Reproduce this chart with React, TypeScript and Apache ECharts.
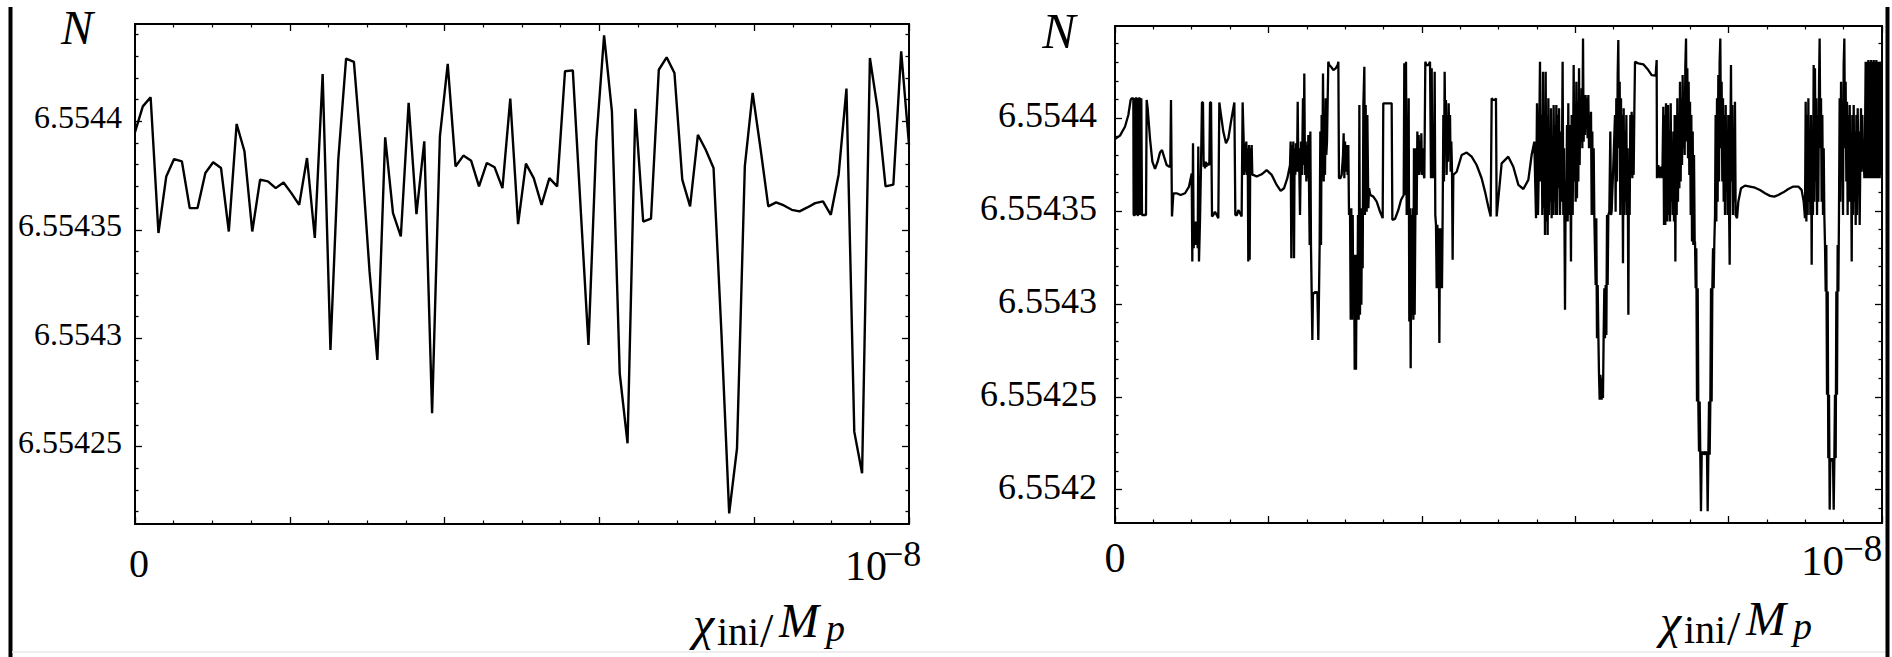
import React, { useEffect, useRef } from "react";
import * as echarts from "echarts";

// x values are in units of 10^-8 (chi_ini / M_p); the right-hand tick is labelled 10^-8
const xTickLabels = ["0", "10", "\u22128"];

// Left panel: 100 equally spaced samples over [0, 1e-8]
const leftN: number[] = [
  6.554395, 6.5544069, 6.5544111, 6.5543485, 6.5543746, 6.5543826, 6.5543815, 6.554360, 6.554360, 6.5543762,
  6.5543811, 6.5543785, 6.5543492, 6.5543988, 6.5543862, 6.5543492, 6.5543731, 6.5543723, 6.5543692, 6.5543718,
  6.5543669, 6.5543615, 6.5543831, 6.5543462, 6.5544218, 6.5542946, 6.5543823, 6.5544289, 6.5544274, 6.5543831,
  6.5543308, 6.554290, 6.5543926, 6.5543577, 6.5543469, 6.5544085, 6.5543572, 6.5543908, 6.5542654, 6.5543931,
  6.5544265, 6.5543792, 6.5543842, 6.5543818, 6.554370, 6.5543808, 6.5543788, 6.5543692, 6.5544105, 6.5543526,
  6.5543805, 6.5543738, 6.5543615, 6.5543738, 6.554370, 6.5544231, 6.5544235, 6.554360, 6.5542969, 6.5543908,
  6.5544397, 6.5544046, 6.5542838, 6.5542515, 6.5544058, 6.5543538, 6.5543551, 6.5544238, 6.5544295, 6.5544223,
  6.5543731, 6.5543608, 6.5543938, 6.5543869, 6.5543785, 6.5543031, 6.5542192, 6.5542492, 6.5543792, 6.5544131,
  6.5543877, 6.5543608, 6.5543626, 6.5543612, 6.5543592, 6.5543585, 6.5543603, 6.5543623, 6.5543631, 6.5543569,
  6.5543754, 6.5544151, 6.5542569, 6.5542377, 6.5544292, 6.5544054, 6.554370, 6.5543708, 6.5544323, 6.5543892,
];

// Right panel: [x (units of 1e-8), N]
const rightPoints: [number, number][] = [
  [0, 6.5543887], [0.0065, 6.5543905], [0.013, 6.5543953], [0.0174, 6.5544016], [0.0204, 6.5544097],
  [0.0217, 6.5544106], [0.0239, 6.5544106], [0.0243, 6.5543478], [0.0261, 6.5543478], [0.0265, 6.5544106], [0.0287, 6.5544106], [0.0291, 6.5543478], [0.0304, 6.5543478], [0.0309, 6.5544106], [0.0326, 6.5544106], [0.033, 6.5543478], [0.0343, 6.5544106], [0.0348, 6.5544106], [0.0352, 6.5543478], [0.0404, 6.5543478], [0.0413, 6.5544097],
  [0.0426, 6.5544052], [0.0456, 6.5543891], [0.0487, 6.5543765], [0.0522, 6.5543726], [0.0556, 6.5543765], [0.0587, 6.5543815], [0.0613, 6.5543828], [0.0639, 6.5543792], [0.0674, 6.5543747], [0.0708, 6.5543738], [0.0721, 6.5543738], [0.073, 6.5544097], [0.0743, 6.554347], [0.0761, 6.5543595], [0.0804, 6.5543595], [0.0856, 6.5543586], [0.0913, 6.5543595], [0.0965, 6.5543631], [0.1, 6.5543702],
  [0.1008, 6.5543228], [0.1017, 6.5543864], [0.1026, 6.5543299], [0.1034, 6.5543443], [0.1043, 6.5543317], [0.1052, 6.5543443], [0.106, 6.5543317], [0.1069, 6.5543425], [0.1078, 6.5543299], [0.1086, 6.5543846], [0.1095, 6.5543228], [0.1108, 6.5543443], [0.1121, 6.5543738], [0.1134, 6.5544084], [0.1147, 6.5544084], [0.1156, 6.5543738], [0.1165, 6.5543765], [0.1173, 6.5543729], [0.1182, 6.5543765], [0.1191, 6.5543738], [0.1204, 6.5543756], [0.123, 6.5543747], [0.1239, 6.5544084], [0.1252, 6.5544084], [0.1265, 6.554347], [0.1282, 6.5543478], [0.1304, 6.5543496], [0.1326, 6.5543478], [0.1347, 6.5543461], [0.136, 6.5544084], [0.1382, 6.5544016], [0.1412, 6.5543927], [0.1447, 6.5543864], [0.1478, 6.5543891], [0.1512, 6.554398], [0.1556, 6.5544084], [0.1569, 6.5543478], [0.1591, 6.5543478], [0.1608, 6.5543505], [0.163, 6.5543487], [0.1651, 6.554347], [0.1664, 6.5544084], [0.1678, 6.5543873], [0.1686, 6.5543694], [0.1695, 6.5543864], [0.1704, 6.5543711], [0.1712, 6.5543873], [0.1721, 6.5543694], [0.173, 6.5543837], [0.1738, 6.5543228], [0.1747, 6.5543855], [0.1756, 6.5543237], [0.1764, 6.5543837], [0.1773, 6.5543694], [0.1782, 6.5543855], [0.179, 6.5543694], [0.1804, 6.5543694],
  [0.1847, 6.5543685], [0.1912, 6.5543697], [0.1977, 6.554372], [0.2043, 6.5543694], [0.2108, 6.554364], [0.216, 6.5543608], [0.2203, 6.5543622], [0.2247, 6.5543676], [0.2282, 6.5543747],
  [0.229, 6.5543873], [0.2299, 6.5543246], [0.2308, 6.5543855], [0.2316, 6.5543694], [0.2325, 6.5543873], [0.2334, 6.5543246], [0.2342, 6.5543837], [0.2351, 6.5543694], [0.236, 6.5543864], [0.2373, 6.5543711], [0.2382, 6.5544088], [0.239, 6.5543711], [0.2399, 6.5543837], [0.2412, 6.5543478], [0.2425, 6.5543873], [0.2438, 6.5543694], [0.2451, 6.5544106], [0.246, 6.5543747], [0.2468, 6.554424], [0.2477, 6.5543694], [0.2486, 6.5543873], [0.2495, 6.5543658], [0.2503, 6.5543855], [0.2512, 6.5543676], [0.2521, 6.5543909], [0.2529, 6.5543658], [0.2538, 6.5543317], [0.2547, 6.5543927], [0.2555, 6.5543317],
  [0.2564, 6.5543066], [0.2573, 6.5542806], [0.2581, 6.5543057], [0.2599, 6.5543057], [0.2608, 6.5543066], [0.2625, 6.5543057], [0.2638, 6.5543066], [0.2651, 6.5542806], [0.266, 6.5543066], [0.2668, 6.5543317], [0.2677, 6.5543927], [0.2686, 6.5543317], [0.2694, 6.5544016], [0.2703, 6.5543694], [0.2712, 6.554424], [0.2721, 6.5543658], [0.2729, 6.5544016], [0.2738, 6.5543694], [0.2747, 6.5544106], [0.2755, 6.5543801], [0.2764, 6.5543873], [0.2781, 6.5544303], [0.2794, 6.5544285], [0.2816, 6.5544276], [0.2847, 6.5544258], [0.2877, 6.5544267], [0.2903, 6.5544285], [0.2912, 6.5544303], [0.292, 6.5543676], [0.2938, 6.5543676], [0.2955, 6.5543694], [0.2973, 6.5543801], [0.2981, 6.5543918], [0.299, 6.5543676], [0.2999, 6.5543873], [0.3007, 6.5543711], [0.302, 6.5543855], [0.3033, 6.5543694], [0.3042, 6.5543855], [0.3051, 6.5543478],
  [0.3064, 6.5543514], [0.3073, 6.5542914], [0.3081, 6.5543514], [0.309, 6.5542914], [0.3099, 6.5543478], [0.3107, 6.5542941], [0.3116, 6.5543264], [0.3125, 6.5542645], [0.3133, 6.5543264], [0.3142, 6.5542645], [0.3151, 6.5543264], [0.316, 6.5542914], [0.3168, 6.5543478], [0.3177, 6.5542914], [0.3186, 6.554407], [0.3194, 6.5542941], [0.3203, 6.5543514], [0.3212, 6.5542995], [0.322, 6.5543496], [0.3229, 6.5543192], [0.3238, 6.554407], [0.3251, 6.5544276], [0.3259, 6.5543478], [0.3268, 6.554407], [0.3281, 6.5543496], [0.329, 6.5544016], [0.3303, 6.5543514], [0.3312, 6.5543622], [0.3329, 6.5543586], [0.3368, 6.5543577], [0.3412, 6.554355], [0.3455, 6.5543496], [0.349, 6.5543461], [0.3498, 6.5544079], [0.3551, 6.5544079], [0.3607, 6.5544079], [0.3616, 6.5543452], [0.3651, 6.5543457], [0.3694, 6.5543505], [0.3729, 6.5543559], [0.3764, 6.5543586],
  [0.3772, 6.5544294], [0.3785, 6.5543586], [0.3794, 6.5544303], [0.3803, 6.5543478], [0.3811, 6.5543694], [0.382, 6.5543478], [0.3829, 6.5544106], [0.3837, 6.5542905], [0.3846, 6.5543514], [0.3855, 6.5542654], [0.3864, 6.5543478], [0.3872, 6.5542941], [0.3881, 6.5543514], [0.389, 6.5542914], [0.3898, 6.5543837], [0.3907, 6.5542941], [0.3916, 6.5543478], [0.3924, 6.5543837], [0.3933, 6.5543478], [0.3942, 6.5543927], [0.395, 6.5543694], [0.3959, 6.5543909], [0.3968, 6.5543694], [0.3976, 6.5543873], [0.3985, 6.5543711], [0.3994, 6.5543918], [0.4003, 6.5543694], [0.4011, 6.5543837], [0.402, 6.5543711], [0.4033, 6.5543676], [0.4046, 6.5544303], [0.4059, 6.5544285], [0.4085, 6.5544285], [0.4107, 6.5544303], [0.412, 6.5543676], [0.4129, 6.5544267], [0.4137, 6.5543676], [0.415, 6.5543873], [0.4159, 6.5543676], [0.4168, 6.5544249], [0.4176, 6.5543478], [0.4185, 6.5543425], [0.4194, 6.5543084], [0.4203, 6.5543425], [0.4211, 6.5543084], [0.422, 6.5543407], [0.4229, 6.5542789], [0.4237, 6.5543407], [0.4246, 6.5543084], [0.4255, 6.5543407], [0.4263, 6.5543084], [0.4272, 6.5543478], [0.4281, 6.5544016], [0.4289, 6.5543658], [0.4298, 6.5544249], [0.4307, 6.5543873], [0.4315, 6.5544097], [0.4324, 6.5543694], [0.4333, 6.5544016], [0.4342, 6.5543765], [0.435, 6.5544079], [0.4359, 6.5543837], [0.4368, 6.5544016], [0.4376, 6.5543711], [0.4385, 6.5543873], [0.4394, 6.5543711], [0.4402, 6.5543237], [0.4411, 6.5543694],
  [0.4455, 6.5543711], [0.452, 6.5543801], [0.4585, 6.5543814], [0.465, 6.5543792], [0.4715, 6.5543747], [0.478, 6.5543676], [0.4824, 6.5543604], [0.4867, 6.5543523], [0.4898, 6.554347], [0.4911, 6.5544106], [0.4933, 6.5544097], [0.4954, 6.5544097], [0.4967, 6.5544106], [0.4976, 6.554347],
  [0.5041, 6.5543756], [0.5128, 6.5543792], [0.5193, 6.5543738], [0.5259, 6.554364], [0.5324, 6.5543618], [0.5389, 6.5543667], [0.5432, 6.5543801], [0.5467, 6.5543873],
  [0.5476, 6.5543873], [0.5489, 6.5543461], [0.5502, 6.5544079], [0.5515, 6.5543478], [0.5528, 6.5543801], [0.5541, 6.5544303], [0.555, 6.5543658], [0.5563, 6.5544016], [0.5571, 6.5543478], [0.558, 6.5544249], [0.5589, 6.5543514], [0.5598, 6.554398], [0.5606, 6.5543371], [0.5615, 6.5544249], [0.5624, 6.5543443], [0.5632, 6.5544016], [0.5641, 6.5543371], [0.565, 6.5544106], [0.5658, 6.5543478], [0.5667, 6.5543837], [0.5676, 6.554355], [0.5684, 6.5544052], [0.5693, 6.5543461], [0.5702, 6.5543837], [0.5711, 6.5543478], [0.5719, 6.554407], [0.5728, 6.554355], [0.5737, 6.5543962], [0.5745, 6.5543478], [0.5754, 6.554407], [0.5763, 6.5543478], [0.5771, 6.5544016], [0.578, 6.5543622], [0.5789, 6.5544052], [0.5802, 6.5543478], [0.5815, 6.5543927], [0.5823, 6.554355], [0.5836, 6.5544303], [0.5845, 6.5543478], [0.5854, 6.5543837], [0.5867, 6.5542968], [0.5876, 6.5543658], [0.5884, 6.5543478], [0.5893, 6.5543962], [0.5902, 6.5543443], [0.591, 6.5544079], [0.5919, 6.5543478], [0.5932, 6.5543962], [0.5945, 6.5543228], [0.5954, 6.5544016], [0.5967, 6.5543478], [0.598, 6.5544285], [0.5989, 6.5543658], [0.5997, 6.5544016], [0.6006, 6.554355], [0.6015, 6.5544195], [0.6023, 6.5543568], [0.6032, 6.5544088], [0.6041, 6.5543658], [0.605, 6.5544267], [0.6058, 6.5543747], [0.6067, 6.5544106], [0.6076, 6.5543873], [0.6084, 6.554416], [0.6093, 6.5543837], [0.6102, 6.5544428], [0.611, 6.5543873], [0.6119, 6.5544088], [0.6128, 6.5543909], [0.6136, 6.5544124], [0.6145, 6.5543944], [0.6154, 6.5544106], [0.6162, 6.5543891], [0.6171, 6.5544124], [0.618, 6.5543837], [0.6189, 6.5544016], [0.6197, 6.5543873], [0.6206, 6.5544034], [0.6215, 6.5543478], [0.6223, 6.5543927], [0.6232, 6.5543478], [0.6241, 6.5543837], [0.6249, 6.5543478],
  [0.6258, 6.5543478], [0.6267, 6.5543102], [0.6275, 6.5543461], [0.6284, 6.5542815], [0.6293, 6.5543102], [0.6302, 6.5542833], [0.631, 6.5542627], [0.6319, 6.5542484], [0.6328, 6.5542618], [0.6336, 6.5542582], [0.6345, 6.5542484], [0.6354, 6.55426], [0.6362, 6.5542493], [0.6371, 6.5542833], [0.638, 6.5543084], [0.6388, 6.5542815], [0.6397, 6.5543102], [0.6406, 6.5542833], [0.6415, 6.5543478], [0.6423, 6.5543102], [0.6432, 6.5543478], [0.6445, 6.5543496], [0.6458, 6.5543927], [0.6467, 6.5543478],
  [0.6475, 6.5543496], [0.6497, 6.5543747], [0.6519, 6.5544016], [0.6527, 6.5543496], [0.6536, 6.5544106], [0.6545, 6.5543658], [0.6554, 6.5544231], [0.6562, 6.5544419], [0.6571, 6.5543837], [0.658, 6.5544195], [0.6588, 6.5543478], [0.6597, 6.5544106], [0.6606, 6.554355], [0.6614, 6.5544016], [0.6623, 6.5543219], [0.6632, 6.5544052], [0.6641, 6.5543478], [0.6649, 6.5543927], [0.6658, 6.554355], [0.6667, 6.5544016], [0.6675, 6.5543478], [0.6684, 6.5543837], [0.6693, 6.5542941], [0.6701, 6.5543747], [0.671, 6.5543478], [0.6719, 6.5544016], [0.6727, 6.5543694], [0.6736, 6.5544034], [0.6745, 6.5543676], [0.6754, 6.5544016], [0.6762, 6.5543694], [0.6771, 6.5544034], [0.678, 6.5544303],
  [0.6823, 6.5544294], [0.6888, 6.5544289], [0.6953, 6.5544258], [0.6997, 6.5544231], [0.7049, 6.5544228], [0.7062, 6.5544312], [0.7066, 6.5543676], [0.7084, 6.5543747], [0.7101, 6.5543676], [0.7119, 6.5543738], [0.7136, 6.5543676],
  [0.7149, 6.5544061], [0.7158, 6.5543425], [0.7167, 6.5544016], [0.7175, 6.5543425], [0.7184, 6.5544079], [0.7193, 6.5543658], [0.7201, 6.5543443], [0.721, 6.554407], [0.7219, 6.5543478], [0.7227, 6.5543927], [0.7236, 6.5543443], [0.7245, 6.5544079], [0.7254, 6.554355], [0.7262, 6.5543837], [0.7271, 6.5543478], [0.728, 6.5543927], [0.7288, 6.5543443], [0.7297, 6.5544016], [0.7306, 6.5543228], [0.7314, 6.5544016], [0.7323, 6.5543478], [0.7332, 6.5544106], [0.734, 6.554355], [0.7349, 6.5544016], [0.7358, 6.5543622], [0.7366, 6.5544195], [0.7375, 6.5543658], [0.7384, 6.5544106], [0.7393, 6.5543747], [0.7401, 6.5544231], [0.741, 6.5543837], [0.7419, 6.5544106], [0.7427, 6.5543801], [0.7436, 6.5544285], [0.7445, 6.5544428], [0.7453, 6.5543873], [0.7462, 6.5544267], [0.7471, 6.5543783], [0.7479, 6.5544195], [0.7488, 6.5543694], [0.7497, 6.5544088], [0.7506, 6.5543478], [0.7514, 6.5544016], [0.7523, 6.5543335], [0.7532, 6.5543927], [0.754, 6.5543317], [0.7549, 6.5543801], [0.7558, 6.5543317],
  [0.7562, 6.5543335], [0.7571, 6.5543084], [0.7579, 6.5543299], [0.7588, 6.5542475], [0.7597, 6.5543084], [0.7605, 6.5542475], [0.7614, 6.5542206], [0.7623, 6.5542475], [0.7631, 6.5542188], [0.764, 6.5541884], [0.7649, 6.5542188], [0.7658, 6.5542206], [0.7666, 6.5542188], [0.7675, 6.5542206], [0.7684, 6.5542188], [0.7692, 6.5542188], [0.7701, 6.5542206], [0.771, 6.5542188], [0.7718, 6.5542206], [0.7727, 6.5541884], [0.7736, 6.5542188], [0.7745, 6.5542475], [0.7753, 6.5542188], [0.7762, 6.5542475], [0.7771, 6.5543084], [0.7779, 6.5542475], [0.7788, 6.5543084], [0.7797, 6.5543299], [0.7805, 6.5543084], [0.7814, 6.5543335],
  [0.7823, 6.5543478], [0.7831, 6.5544016], [0.784, 6.5543443], [0.7849, 6.5544106], [0.7857, 6.554355], [0.7866, 6.5544231], [0.7875, 6.5543658], [0.7883, 6.5544303], [0.7892, 6.5544428], [0.7901, 6.5543837], [0.7909, 6.5544195], [0.7918, 6.5543658], [0.7927, 6.5544106], [0.7936, 6.554355], [0.7944, 6.5544016], [0.7953, 6.5543478], [0.7962, 6.554407], [0.797, 6.5543658], [0.7979, 6.5543927], [0.7988, 6.5543478], [0.7996, 6.5544016], [0.8005, 6.554355], [0.8014, 6.554321], [0.8023, 6.5543837], [0.8031, 6.5544285], [0.804, 6.5543658], [0.8049, 6.554407], [0.8057, 6.5543478], [0.8066, 6.5543927], [0.8075, 6.554355], [0.8083, 6.5544088], [0.8092, 6.5543478], [0.811, 6.5543461],
  [0.8127, 6.554355], [0.8162, 6.5543622], [0.8214, 6.5543636], [0.8279, 6.5543631], [0.8344, 6.5543625], [0.8409, 6.5543613], [0.8475, 6.5543595], [0.854, 6.5543581], [0.8596, 6.5543577], [0.8648, 6.5543586], [0.8714, 6.55436], [0.8779, 6.5543618], [0.8844, 6.5543631], [0.8909, 6.5543631], [0.8952, 6.5543613], [0.8979, 6.554355], [0.8996, 6.5543461],
  [0.9005, 6.5544088], [0.9014, 6.5543443], [0.9022, 6.5544016], [0.9031, 6.5543478], [0.904, 6.5544106], [0.9048, 6.554355], [0.9057, 6.5543927], [0.9066, 6.5543478], [0.9074, 6.5544016], [0.9083, 6.554321], [0.9092, 6.5543927], [0.91, 6.5543478], [0.9109, 6.5544285], [0.9118, 6.554355], [0.9126, 6.5544267], [0.9135, 6.5543658], [0.9144, 6.5544106], [0.9153, 6.5543478], [0.9161, 6.5544016], [0.917, 6.554355], [0.9179, 6.5544195], [0.9187, 6.5544428], [0.9196, 6.5543837], [0.9205, 6.5544106], [0.9213, 6.554355], [0.9222, 6.5544016], [0.9231, 6.5543478], [0.924, 6.5543837], [0.9248, 6.5543478], [0.9257, 6.5543317],
  [0.9266, 6.5543066], [0.9274, 6.5543317], [0.9283, 6.5542511], [0.9292, 6.5543066], [0.93, 6.554217], [0.9309, 6.5542511], [0.9318, 6.5541893], [0.9326, 6.554217], [0.9335, 6.5542152], [0.9344, 6.554217], [0.9353, 6.5542152], [0.9361, 6.554217], [0.937, 6.5541893], [0.9379, 6.554217], [0.9387, 6.5542511], [0.9396, 6.554217], [0.9405, 6.5543066], [0.9413, 6.5542511], [0.9422, 6.5543317], [0.9431, 6.5543066],
  [0.9439, 6.5543478], [0.9448, 6.5544106], [0.9457, 6.554355], [0.9466, 6.5544195], [0.9474, 6.5543658], [0.9483, 6.5544016], [0.9492, 6.5543478], [0.95, 6.5544285], [0.9509, 6.5544428], [0.9518, 6.5543837], [0.9526, 6.5544195], [0.9535, 6.5543658], [0.9544, 6.5544088], [0.9552, 6.5543478], [0.9561, 6.5544016], [0.957, 6.554355], [0.9579, 6.554407], [0.9587, 6.5543622], [0.9596, 6.5543837], [0.9605, 6.5543228], [0.9613, 6.5544016], [0.9622, 6.5543478], [0.9631, 6.554407], [0.9639, 6.554355], [0.9648, 6.5543927], [0.9657, 6.5543425], [0.9666, 6.5544016], [0.9674, 6.5543478], [0.9683, 6.5544052], [0.9692, 6.5543694], [0.97, 6.5543927], [0.9709, 6.5543425], [0.9718, 6.5543801], [0.9726, 6.5544052], [0.9735, 6.5543711], [0.9744, 6.5544016], [0.9752, 6.5543729], [0.9761, 6.5543801], [0.977, 6.5543676], [0.9778, 6.5543873],
  [0.9787, 6.5544303], [0.9796, 6.5543676], [0.9805, 6.5544303], [0.9813, 6.5543676], [0.9822, 6.5544312], [0.9831, 6.5543676], [0.9839, 6.5544303], [0.9848, 6.5543676], [0.9857, 6.5544312], [0.9865, 6.5543676], [0.9874, 6.5544303], [0.9883, 6.5543676], [0.9892, 6.5544312], [0.99, 6.5543676], [0.9909, 6.5544303], [0.9918, 6.5543676], [0.9926, 6.5544312], [0.9935, 6.5543676], [0.9944, 6.5544303], [0.9952, 6.5543676], [0.9961, 6.5544303], [0.997, 6.5543676], [0.9979, 6.5544303], [0.9987, 6.5543694], [0.9996, 6.5544016],
];

// Axis ranges and tick values
const leftRange = [6.5542143, 6.5544449];
const rightRange = [6.5541821, 6.5544495];
const leftMajor = [6.55425, 6.5543, 6.55435, 6.5544];
const leftMinor = [6.55422, 6.55423, 6.55424, 6.55426, 6.55427, 6.55428, 6.55429, 6.55431, 6.55432, 6.55433, 6.55434, 6.55436, 6.55437, 6.55438, 6.55439, 6.55441, 6.55442, 6.55443, 6.55444];
const rightMajor = [6.5542, 6.55425, 6.5543, 6.55435, 6.5544];
const rightMinor = [6.55419, 6.55421, 6.55422, 6.55423, 6.55424, 6.55426, 6.55427, 6.55428, 6.55429, 6.55431, 6.55432, 6.55433, 6.55434, 6.55436, 6.55437, 6.55438, 6.55439, 6.55441, 6.55442, 6.55443, 6.55444];

const SERIF = "'Liberation Serif', 'Times New Roman', serif";
const BLACK = "#000";

function xAxisFor(gridIndex: number, position: "top" | "bottom", label: any) {
  return {
    type: "value",
    gridIndex,
    position,
    min: 0,
    max: 1,
    interval: 0.2,
    axisLine: { show: true, onZero: false, lineStyle: { color: BLACK, width: 1.8 } },
    axisTick: { show: true, inside: true, length: 7, lineStyle: { color: BLACK, width: 1.3 } },
    minorTick: { show: true, splitNumber: 4, length: 3.5, lineStyle: { color: BLACK, width: 1.2 } },
    axisLabel: label ? label : { show: false },
    splitLine: { show: false },
    minorSplitLine: { show: false },
  };
}

function yAxisFor(gridIndex: number, position: "left" | "right", range: number[], values: number[], len: number, label: any) {
  return {
    type: "value",
    gridIndex,
    position,
    min: range[0],
    max: range[1],
    axisLine: { show: true, onZero: false, lineStyle: { color: BLACK, width: 1.8 } },
    axisTick: { show: true, inside: true, length: len, customValues: values, lineStyle: { color: BLACK, width: 1.3 } },
    axisLabel: label ? { ...label, customValues: values } : { show: false },
    splitLine: { show: false },
  };
}

const fmtY = (v: number) => v.toFixed(5).replace(/0+$/, "");

function txt(text: string, x: number, y: number, fontSize: number, italic: boolean, align: string = "left", pad: number[] = [0, 0, 0, 0]) {
  return {
    type: "text",
    x,
    y,
    silent: true,
    style: {
      text,
      fill: BLACK,
      fontFamily: SERIF,
      fontSize,
      fontStyle: italic ? "italic" : "normal",
      lineHeight: Math.round(fontSize * 1.05),
      padding: pad,
      textAlign: align,
      textVerticalAlign: "middle",
      align,
      verticalAlign: "middle",
    },
  };
}

// title χ_ini / M_p, b = baseline of "M"
function titleParts(x0: number, b: number) {
  return [
    txt("\u03c7", x0, b + 3 - 0.3375 * 48, 48, true, "left", [0, 8, 0, 0]),
    txt("ini", x0 + 24, b + 8 - 0.3375 * 40, 40, false),
    txt("/", x0 + 67, b + 10 - 0.3375 * 48, 48, false),
    txt("M", x0 + 86, b - 0.3375 * 48, 48, true, "left", [0, 8, 0, 0]),
    txt("p", x0 + 133, b + 4 - 0.3375 * 38, 38, true, "left", [0, 8, 0, 0]),
  ];
}

const option: any = {
  animation: false,
  backgroundColor: "#fff",
  grid: [
    { left: 135, top: 24, width: 774, height: 500 },
    { left: 1115, top: 26, width: 767, height: 497 },
  ],
  xAxis: [
    xAxisFor(0, "bottom", {
      show: true, customValues: [0], formatter: () => xTickLabels[0],
      fontFamily: SERIF, fontSize: 40, color: BLACK, margin: 19, padding: [0, 0, 0, 8],
    }),
    xAxisFor(0, "top", null),
    xAxisFor(1, "bottom", {
      show: true, customValues: [0], formatter: () => xTickLabels[0],
      fontFamily: SERIF, fontSize: 42, color: BLACK, margin: 14,
    }),
    xAxisFor(1, "top", null),
  ],
  yAxis: [
    yAxisFor(0, "left", leftRange, leftMajor, 7, {
      show: true, formatter: fmtY, fontFamily: SERIF, fontSize: 32, color: BLACK, margin: 13,
      verticalAlign: "bottom", lineHeight: 9,
    }),
    yAxisFor(0, "left", leftRange, leftMinor, 3.5, null),
    yAxisFor(0, "right", leftRange, leftMajor, 7, null),
    yAxisFor(0, "right", leftRange, leftMinor, 3.5, null),
    yAxisFor(1, "left", rightRange, rightMajor, 7, {
      show: true, formatter: fmtY, fontFamily: SERIF, fontSize: 36, color: BLACK, margin: 18,
      verticalAlign: "bottom", lineHeight: 6,
    }),
    yAxisFor(1, "left", rightRange, rightMinor, 3.5, null),
    yAxisFor(1, "right", rightRange, rightMajor, 7, null),
    yAxisFor(1, "right", rightRange, rightMinor, 3.5, null),
  ],
  series: [
    {
      type: "line",
      xAxisIndex: 0,
      yAxisIndex: 0,
      data: leftN.map((v, i) => [i / (leftN.length - 1), v]),
      showSymbol: false,
      symbol: "none",
      lineStyle: { color: BLACK, width: 2.4 },
      silent: true,
    },
    {
      type: "line",
      xAxisIndex: 2,
      yAxisIndex: 4,
      data: rightPoints,
      showSymbol: false,
      symbol: "none",
      lineStyle: { color: BLACK, width: 2.3 },
      silent: true,
    },
  ],
  graphic: {
    elements: [
      { type: "line", silent: true, shape: { x1: 10.5, y1: 7, x2: 10.5, y2: 657 }, style: { stroke: BLACK, lineWidth: 4 } },
      { type: "line", silent: true, shape: { x1: 1887.5, y1: 7, x2: 1887.5, y2: 657 }, style: { stroke: BLACK, lineWidth: 4 } },
      { type: "line", silent: true, shape: { x1: 12, y1: 652, x2: 1885, y2: 652 }, style: { stroke: "#e8e8e8", lineWidth: 1.5 } },
      txt("N", 77, 44 - 0.3375 * 48, 48, true, "center", [0, 8, 0, 8]),
      txt("N", 1059, 48 - 0.3375 * 50, 50, true, "center", [0, 8, 0, 8]),
      txt(xTickLabels[1], 845, 580 - 0.3375 * 42, 42, false),
      txt(xTickLabels[2], 883, 566 - 0.3375 * 36, 36, false),
      txt(xTickLabels[1], 1801, 575 - 0.3375 * 43, 43, false),
      txt(xTickLabels[2], 1843, 561 - 0.3375 * 37, 37, false),
      ...titleParts(693, 637),
      ...titleParts(1660, 635),
    ],
  },
};

export default function App() {
  const ref = useRef<HTMLDivElement>(null);
  useEffect(() => {
    document.body.style.margin = "0";
    const chart = echarts.init(ref.current as HTMLDivElement, undefined, { renderer: "svg" });
    chart.setOption(option);
    return () => {
      chart.dispose();
    };
  }, []);
  return <div ref={ref} style={{ width: 1892, height: 657, background: "#fff" }} />;
}
